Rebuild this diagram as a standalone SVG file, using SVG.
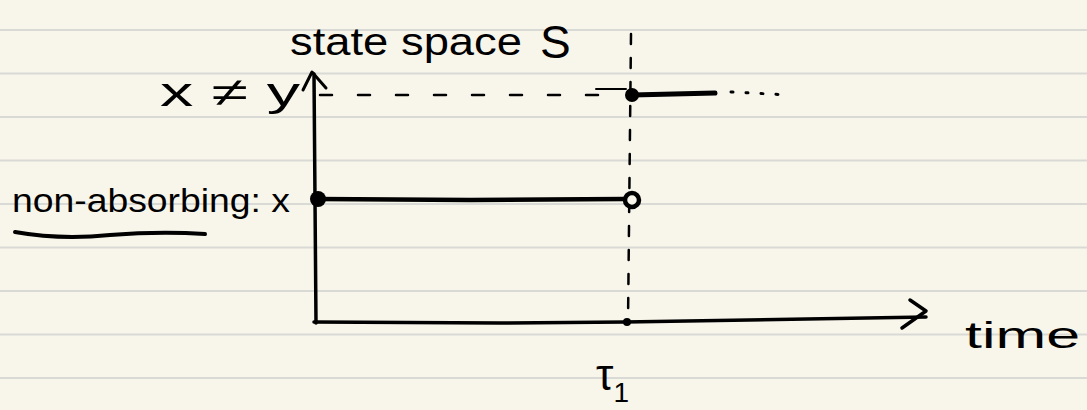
<svg xmlns="http://www.w3.org/2000/svg" width="1087" height="410" viewBox="0 0 1087 410">
<style>
.rule{stroke:#d9d9d6;stroke-width:2}
.ink{stroke:#000;fill:none;stroke-linecap:round;stroke-linejoin:round}
.t{font-family:"Liberation Sans",Arial,sans-serif;fill:#000}
</style>
<rect width="1087" height="410" fill="#f8f6eb"/>
<g id="paper">
<line class="rule" x1="0" y1="30" x2="1087" y2="30"/>
<line class="rule" x1="0" y1="73.5" x2="1087" y2="73.5"/>
<line class="rule" x1="0" y1="117" x2="1087" y2="117"/>
<line class="rule" x1="0" y1="160.5" x2="1087" y2="160.5"/>
<line class="rule" x1="0" y1="204" x2="1087" y2="204"/>
<line class="rule" x1="0" y1="247.5" x2="1087" y2="247.5"/>
<line class="rule" x1="0" y1="291" x2="1087" y2="291"/>
<line class="rule" x1="0" y1="334.5" x2="1087" y2="334.5"/>
<line class="rule" x1="0" y1="378" x2="1087" y2="378"/>
</g>
<g id="connectors">
<path class="ink" stroke-width="3.5" d="M314 74 L315 200 L316 323"/>
<path class="ink" stroke-width="3" d="M303 90 L312 72 L326 88"/>
<path class="ink" stroke-width="3.5" d="M314 322 L500 323 L625 322 L926 317"/>
<path class="ink" stroke-width="3.5" d="M910 300 L926 311 L902 328"/>
<line class="ink" stroke-width="2" x1="316" y1="307" x2="316" y2="318"/>
<line class="ink" stroke-width="2.5" stroke-dasharray="10,14" x1="631" y1="34" x2="628" y2="323"/>
<path class="ink" stroke-width="2.5" stroke-dasharray="12,26" d="M320 95 L600 95"/>
<path class="ink" stroke-width="2" d="M596 89 L626 89"/>
<path class="ink" stroke-width="5" d="M632 95 L715 93"/>
<path class="ink" stroke-width="3" stroke-dasharray="2,13" d="M731 92 L790 95"/>
<path class="ink" stroke-width="4.5" d="M318 199 L470 200 L624 199"/>
<path class="ink" stroke-width="4" d="M15 232 Q60 240 110 235 Q160 231 205 234"/>
</g>
<g id="node-x-ne-y">
<circle cx="632" cy="95" r="7" fill="#000"/>
<text class="t" x="160" y="106" font-size="40" textLength="140" lengthAdjust="spacingAndGlyphs">x ≠ y</text>
</g>
<g id="node-x">
<circle cx="318" cy="199" r="8" fill="#000"/>
<circle cx="632" cy="200" r="7" fill="#f8f6eb" stroke="#000" stroke-width="4.5"/>
<text class="t" x="12" y="212" font-size="34" textLength="278" lengthAdjust="spacingAndGlyphs">non-absorbing: x</text>
</g>
<g id="node-tau">
<circle cx="627" cy="322" r="4" fill="#000"/>
<text class="t" x="596" y="390" font-size="44">τ<tspan font-size="28" dy="12">1</tspan></text>
</g>
<g id="labels">
<text class="t" x="290" y="55" font-size="38" textLength="232" lengthAdjust="spacingAndGlyphs">state space</text>
<text class="t" x="540" y="58" font-size="46">S</text>
<text class="t" x="965" y="348" font-size="36" textLength="115" lengthAdjust="spacingAndGlyphs">time</text>
</g>
</svg>
